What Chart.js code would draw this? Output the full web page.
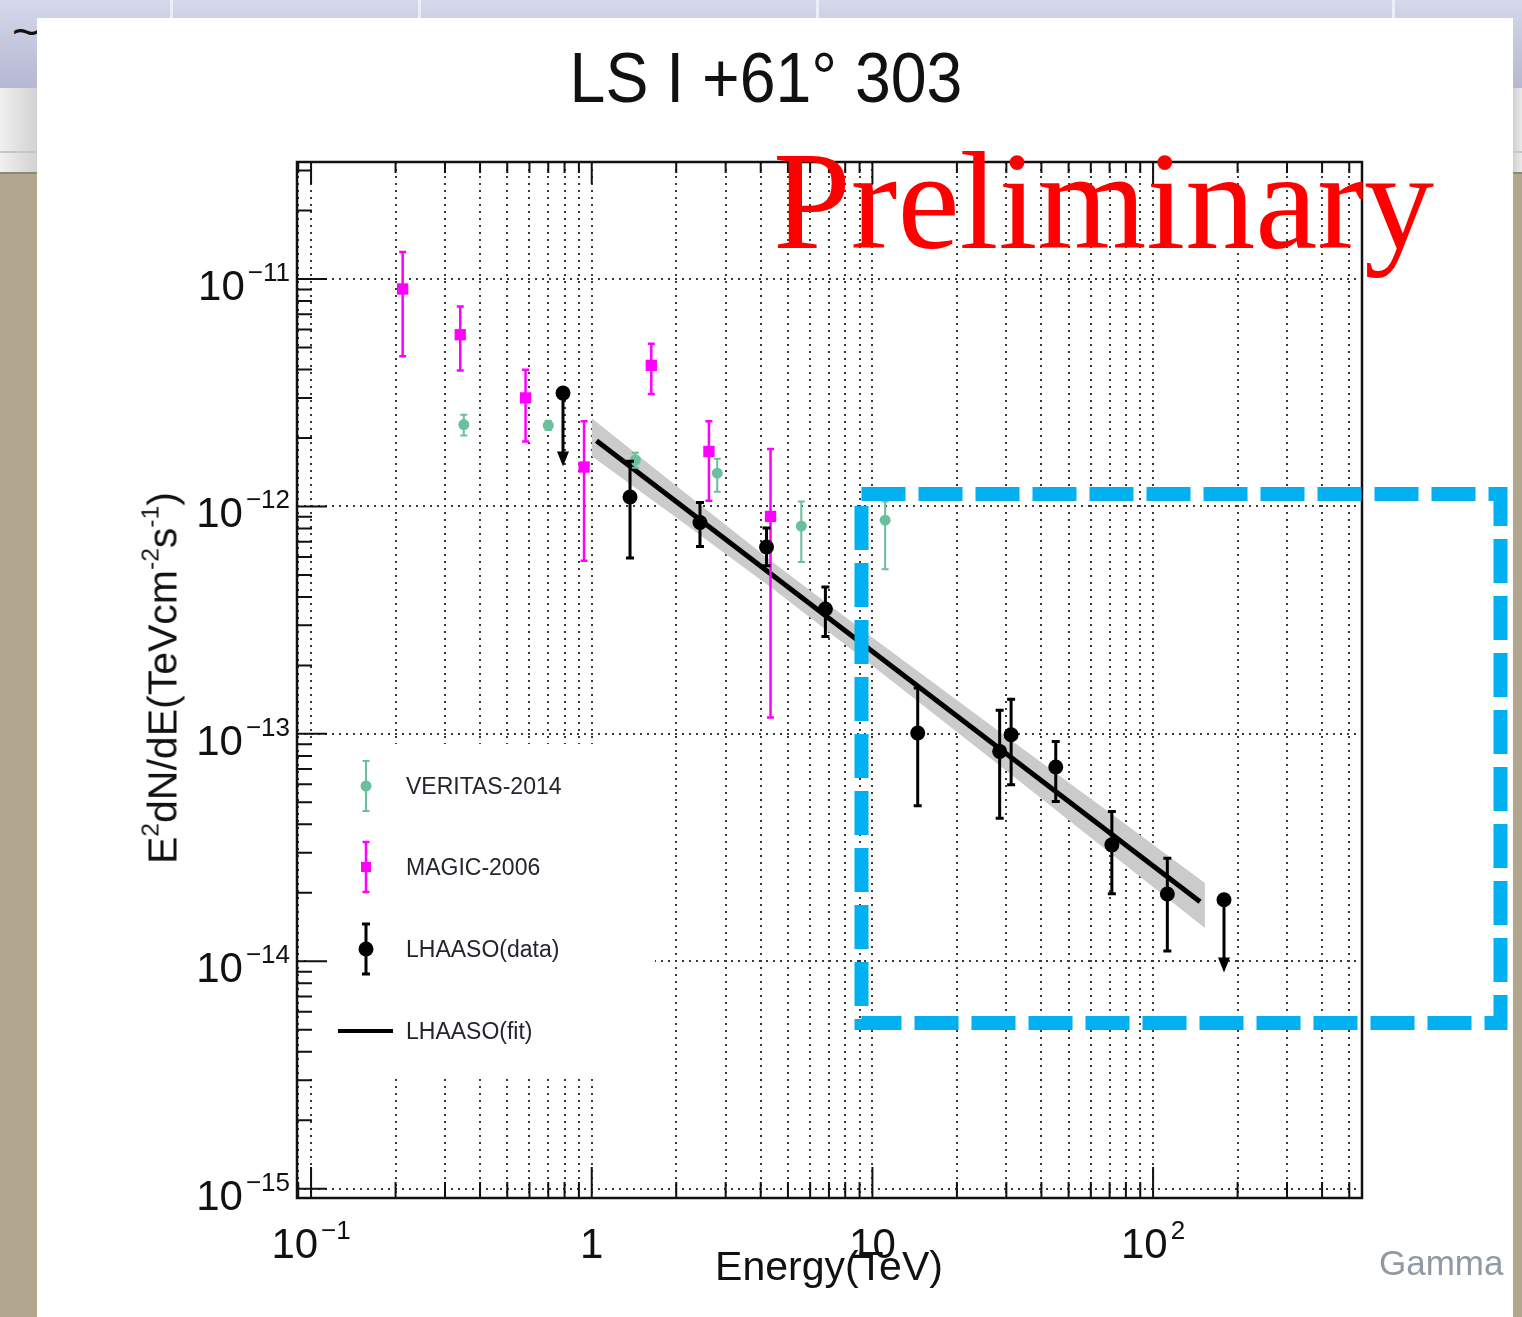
<!DOCTYPE html>
<html>
<head>
<meta charset="utf-8">
<title>LS I +61 303 - LHAASO</title>
<script src="https://cdn.jsdelivr.net/npm/chart.js@4.4.0/dist/chart.umd.min.js"></script>
<style>
  html, body { margin: 0; padding: 0; }
  body { width: 1522px; height: 1317px; position: relative; overflow: hidden; background: #b3a68f; font-family: "Liberation Sans", Arial, sans-serif; }
  #topband { position: absolute; left: 0; top: 0; width: 1522px; height: 88px; background: linear-gradient(#d5d7eb, #b6b8d2); }
  #grayband { position: absolute; left: 0; top: 88px; width: 1522px; height: 84px; background: linear-gradient(to right, #f0f0f0, #d2d2d2 37px, #d2d2d2 1513px, #e8e8e8); border-bottom: 2px solid #8e8676; }
  #grayline { position: absolute; left: 0; top: 151px; width: 1522px; height: 2px; background: #c6c6c6; }
  .sep { position: absolute; top: 0; width: 3px; height: 88px; background: #eceef7; }
  #panel { position: absolute; left: 37px; top: 18px; width: 1476px; height: 1299px; background: #fff; }
  #c { position: absolute; left: 0; top: 0; }
  .txt { position: absolute; white-space: nowrap; line-height: 1; color: #111; }
  .sup { font-size: 0.6em; position: relative; top: -0.75em; }
  #title { left: 766px; top: 43px; font-size: 70px; transform: translateX(-50%) scaleX(0.92); }
  #prelim { left: 773px; top: 131px; font-size: 140px; font-family: "Liberation Serif", "Times New Roman", serif; color: #ff0000; }
  #xtitle { left: 829px; top: 1246px; font-size: 41px; transform: translateX(-50%); }
  #ytitle { left: 163px; top: 678px; font-size: 41px; transform: translate(-50%, -50%) rotate(-90deg); }
  #gamma { left: 1379px; top: 1245px; font-size: 35px; color: #909aa6; }
  #blue { position: absolute; left: 0; top: 0; }
</style>
</head>
<body>
<div id="topband">
  <div class="sep" style="left:170px"></div>
  <div class="sep" style="left:418px"></div>
  <div class="sep" style="left:816px"></div>
  <div class="sep" style="left:1392px"></div>
  <div class="txt" style="left:12px; top:8px; font-size:48px;">~</div>
  <div class="txt" style="left:1500px; top:14px; font-size:46px;">)</div>
</div>
<div id="grayband"></div>
<div id="grayline"></div>
<div id="panel"></div>
<canvas id="c" width="1522" height="1317"></canvas>
<div id="title" class="txt">LS I +61° 303</div>
<div id="prelim" class="txt">Preliminary</div>
<div id="xtitle" class="txt">Energy(TeV)</div>
<div id="ytitle" class="txt">E<span class="sup">2</span>dN/dE(TeVcm<span class="sup">-2</span>s<span class="sup">-1</span>)</div>
<div id="gamma" class="txt">Gamma</div>
<svg id="blue" width="1522" height="1317">
  <rect x="861.5" y="494" width="639" height="529" fill="none" stroke="#00b0f0" stroke-width="14" stroke-dasharray="44 13"></rect>
</svg>

<script>
// ---- data (E in TeV, E^2 dN/dE in TeV cm^-2 s^-1) ----
const veritasE = [0.35, 0.70, 1.43, 2.80, 5.58, 11.1];
const veritasF = [2.29e-12, 2.27e-12, 1.60e-12, 1.40e-12, 8.2e-13, 8.7e-13];
const veritasHi = [2.53e-12, 2.38e-12, 1.72e-12, 1.62e-12, 1.05e-12, 1.05e-12];
const veritasLo = [2.05e-12, 2.17e-12, 1.48e-12, 1.16e-12, 5.7e-13, 5.3e-13];

const magicE = [0.212, 0.340, 0.581, 0.939, 1.63, 2.615, 4.335];
const magicF = [9.04e-12, 5.69e-12, 3.0e-12, 1.49e-12, 4.17e-12, 1.745e-12, 9.04e-13];
const magicHi = [1.315e-11, 7.58e-12, 3.99e-12, 2.37e-12, 5.19e-12, 2.37e-12, 1.79e-12];
const magicLo = [4.57e-12, 3.96e-12, 1.93e-12, 5.77e-13, 3.12e-12, 1.06e-12, 1.18e-13];

const lhaasoE = [1.369, 2.43, 4.195, 6.80, 14.5, 28.4, 31.2, 45.0, 71.3, 112.4];
const lhaasoF = [1.10e-12, 8.50e-13, 6.63e-13, 3.54e-13, 1.008e-13, 8.37e-14, 9.91e-14, 7.15e-14, 3.25e-14, 1.975e-14];
const lhaasoHi = [1.58e-12, 1.04e-12, 8.04e-13, 4.42e-13, 1.59e-13, 1.27e-13, 1.42e-13, 9.26e-14, 4.56e-14, 2.84e-14];
const lhaasoLo = [5.93e-13, 6.67e-13, 5.48e-13, 2.68e-13, 4.83e-14, 4.26e-14, 5.97e-14, 5.04e-14, 1.98e-14, 1.11e-14];

// upper limits (arrow goes down to ulTo)
const ulE = [0.790, 178.9];
const ulF = [3.15e-12, 1.865e-14];
const ulTo = [1.5e-12, 8.93e-15];

// power law fit and its error band
const fitE = [1.04, 147];
const fitF = [1.943e-12, 1.827e-14];
const bandE = [1.0, 2.0, 4.5, 10, 30, 80, 153];
const bandHi = [2.445e-12, 1.232e-12, 5.58e-13, 2.655e-13, 9.71e-14, 3.99e-14, 2.21e-14];
const bandLo = [1.661e-12, 8.93e-13, 4.27e-13, 1.995e-13, 6.88e-14, 2.64e-14, 1.40e-14];

// axes
const xRange = [0.0891, 555];
const yRange = [9.1e-16, 3.27e-11];
const xMajor = [0.1, 1, 10, 100];
const xMajorBase = ['10', '1', '10', '10'];
const xMajorExp = ['\u22121', '', '', '2'];
const yMajor = [1e-15, 1e-14, 1e-13, 1e-12, 1e-11];
const yMajorExp = ['\u221215', '\u221214', '\u221213', '\u221212', '\u221211'];

const FONT = '"Liberation Sans", Arial, sans-serif';

function pts(xs, ys) {
  return xs.map((x, i) => ({ x: x, y: ys[i] }));
}

// 1..9 x 10^n ticks inside the range
function logTicks(min, max) {
  let out = [];
  for (let p = Math.floor(Math.log10(min)); p <= Math.ceil(Math.log10(max)); p++) {
    for (let m = 1; m <= 9; m++) {
      let v = m * Math.pow(10, p);
      if (v >= min && v <= max) out.push({ value: v, major: m === 1 });
    }
  }
  return out;
}

// error bars + upper limit arrows, drawn under each dataset's markers
const errorBarPlugin = {
  id: 'errorBars',
  beforeDatasetDraw(chart, args) {
    const ds = chart.data.datasets[args.index];
    const xs = chart.scales.x, ys = chart.scales.y;
    const ctx = chart.ctx;
    ctx.save();
    ctx.strokeStyle = ds.borderColor;
    ctx.fillStyle = ds.borderColor;
    ctx.lineWidth = ds.barWidth || 2;
    if (ds.errHi) {
      ds.data.forEach((p, i) => {
        const px = xs.getPixelForValue(p.x);
        const yHi = ys.getPixelForValue(ds.errHi[i]);
        const yLo = ys.getPixelForValue(ds.errLo[i]);
        const c = ds.capHalf || 4;
        ctx.beginPath();
        ctx.moveTo(px, yHi); ctx.lineTo(px, yLo);
        ctx.moveTo(px - c, yHi); ctx.lineTo(px + c, yHi);
        ctx.moveTo(px - c, yLo); ctx.lineTo(px + c, yLo);
        ctx.stroke();
      });
    }
    if (ds.arrowTo) {
      ds.data.forEach((p, i) => {
        const px = xs.getPixelForValue(p.x);
        const py = ys.getPixelForValue(p.y);
        const tip = ys.getPixelForValue(ds.arrowTo[i]);
        ctx.beginPath();
        ctx.moveTo(px, py); ctx.lineTo(px, tip - 12);
        ctx.stroke();
        ctx.beginPath();
        ctx.moveTo(px - 6, tip - 15); ctx.lineTo(px + 6, tip - 15); ctx.lineTo(px, tip);
        ctx.closePath();
        ctx.fill();
      });
    }
    ctx.restore();
  }
};

function drawPow(ctx, base, exp, x, y, align) {
  ctx.font = '42px ' + FONT;
  const wb = ctx.measureText(base).width;
  ctx.font = '26px ' + FONT;
  const we = exp ? ctx.measureText(exp).width + 3 : 0;
  const total = wb + we;
  const x0 = align === 'right' ? x - total : x - total / 2;
  ctx.textAlign = 'left';
  ctx.textBaseline = 'alphabetic';
  ctx.font = '42px ' + FONT;
  ctx.fillText(base, x0, y);
  if (exp) {
    ctx.font = '26px ' + FONT;
    ctx.fillText(exp, x0 + wb + 3, y - 19);
  }
}

// legend box, inward ticks, frame and tick labels (ROOT style)
const frameLegendPlugin = {
  id: 'frameLegend',
  afterDraw(chart) {
    const ctx = chart.ctx;
    const a = chart.chartArea;
    const xs = chart.scales.x, ys = chart.scales.y;
    const dsets = chart.data.datasets;
    ctx.save();

    // legend
    ctx.fillStyle = '#fff';
    ctx.fillRect(306, 744, 349, 333);
    const rows = [
      { ds: 3, y: 786, bar: 25, kind: 'circle' },
      { ds: 2, y: 867, bar: 25, kind: 'rect' },
      { ds: 0, y: 949, bar: 25, kind: 'circle' },
      { ds: 4, y: 1031, bar: 0, kind: 'line' }
    ];
    const mx = 366;
    rows.forEach(r => {
      const d = dsets[r.ds];
      ctx.strokeStyle = d.borderColor;
      ctx.fillStyle = d.borderColor;
      if (r.kind === 'line') {
        ctx.lineWidth = 4;
        ctx.beginPath(); ctx.moveTo(338, r.y); ctx.lineTo(393, r.y); ctx.stroke();
      } else {
        ctx.lineWidth = d.barWidth || 2;
        const c = d.capHalf || 4;
        ctx.beginPath();
        ctx.moveTo(mx, r.y - r.bar); ctx.lineTo(mx, r.y + r.bar);
        ctx.moveTo(mx - c, r.y - r.bar); ctx.lineTo(mx + c, r.y - r.bar);
        ctx.moveTo(mx - c, r.y + r.bar); ctx.lineTo(mx + c, r.y + r.bar);
        ctx.stroke();
        if (r.kind === 'rect') {
          ctx.fillRect(mx - 5, r.y - 5, 10, 10);
        } else {
          ctx.beginPath(); ctx.arc(mx, r.y, d.pointRadius, 0, Math.PI * 2); ctx.fill();
        }
      }
      ctx.fillStyle = '#24242c';
      ctx.font = '23px ' + FONT;
      ctx.textAlign = 'left';
      ctx.textBaseline = 'alphabetic';
      ctx.fillText(d.label, 406, r.y + 8);
    });

    // tick marks, pointing into the frame
    ctx.strokeStyle = '#111';
    ctx.lineWidth = 2;
    ctx.beginPath();
    xs.ticks.forEach(t => {
      const px = xs.getPixelForValue(t.value);
      ctx.moveTo(px, a.bottom); ctx.lineTo(px, a.bottom - (t.major ? 31 : 16));
      ctx.moveTo(px, a.top); ctx.lineTo(px, a.top + (t.major ? 22 : 11));
    });
    ys.ticks.forEach(t => {
      const py = ys.getPixelForValue(t.value);
      ctx.moveTo(a.left, py); ctx.lineTo(a.left + (t.major ? 30 : 15), py);
    });
    ctx.stroke();

    // frame
    ctx.lineWidth = 2.5;
    ctx.strokeRect(a.left, a.top, a.right - a.left, a.bottom - a.top);

    // tick labels
    ctx.fillStyle = '#111';
    xMajor.forEach((v, i) => {
      drawPow(ctx, xMajorBase[i], xMajorExp[i], xs.getPixelForValue(v), a.bottom + 60, 'center');
    });
    yMajor.forEach((v, i) => {
      drawPow(ctx, '10', yMajorExp[i], a.left - 7, ys.getPixelForValue(v) + 21, 'right');
    });
    ctx.restore();
  }
};

const dotted = '#3a3a3a';

new Chart(document.getElementById('c'), {
  type: 'scatter',
  data: {
    datasets: [
      {
        label: 'LHAASO(data)', data: pts(lhaasoE, lhaasoF), errHi: lhaasoHi, errLo: lhaasoLo,
        backgroundColor: '#000', borderColor: '#000', pointRadius: 7.5, pointBorderWidth: 0,
        barWidth: 3, capHalf: 4
      },
      {
        label: 'LHAASO(UL)', data: pts(ulE, ulF), arrowTo: ulTo,
        backgroundColor: '#000', borderColor: '#000', pointRadius: 7.5, pointBorderWidth: 0,
        barWidth: 3
      },
      {
        label: 'MAGIC-2006', data: pts(magicE, magicF), errHi: magicHi, errLo: magicLo,
        pointStyle: 'rect', backgroundColor: '#ff00ff', borderColor: '#ff00ff', pointRadius: 8, pointBorderWidth: 0,
        barWidth: 2.5, capHalf: 3.5
      },
      {
        label: 'VERITAS-2014', data: pts(veritasE, veritasF), errHi: veritasHi, errLo: veritasLo,
        backgroundColor: '#6abf9c', borderColor: '#6abf9c', pointRadius: 5.5, pointBorderWidth: 0,
        barWidth: 2, capHalf: 3.5
      },
      {
        type: 'line', label: 'LHAASO(fit)', data: pts(fitE, fitF),
        borderColor: '#000', borderWidth: 5, pointRadius: 0, fill: false
      },
      {
        type: 'line', label: 'band low', data: pts(bandE, bandLo),
        borderColor: 'rgba(0,0,0,0)', borderWidth: 0, pointRadius: 0, fill: false
      },
      {
        type: 'line', label: 'band high', data: pts(bandE, bandHi),
        borderColor: 'rgba(0,0,0,0)', borderWidth: 0, pointRadius: 0,
        fill: '-1', backgroundColor: '#cbcbcb'
      }
    ]
  },
  options: {
    responsive: false,
    animation: false,
    devicePixelRatio: 1,
    events: [],
    layout: { padding: { left: 297, top: 162, right: 160, bottom: 119 } },
    plugins: {
      legend: { display: false },
      tooltip: { enabled: false },
      title: { display: false }
    },
    scales: {
      x: {
        type: 'logarithmic',
        min: xRange[0],
        max: xRange[1],
        afterBuildTicks: (s) => { s.ticks = logTicks(xRange[0], xRange[1]); },
        ticks: { display: false },
        grid: { color: dotted, lineWidth: 2, drawTicks: false },
        border: { display: false, dash: [2, 5] }
      },
      y: {
        type: 'logarithmic',
        min: yRange[0],
        max: yRange[1],
        afterBuildTicks: (s) => { s.ticks = logTicks(yRange[0], yRange[1]); },
        ticks: { display: false },
        grid: {
          color: (c) => (c.tick && c.tick.major) ? dotted : 'rgba(0,0,0,0)',
          lineWidth: 2,
          drawTicks: false
        },
        border: { display: false, dash: [2, 5] }
      }
    }
  },
  plugins: [errorBarPlugin, frameLegendPlugin]
});
</script>
</body>
</html>
